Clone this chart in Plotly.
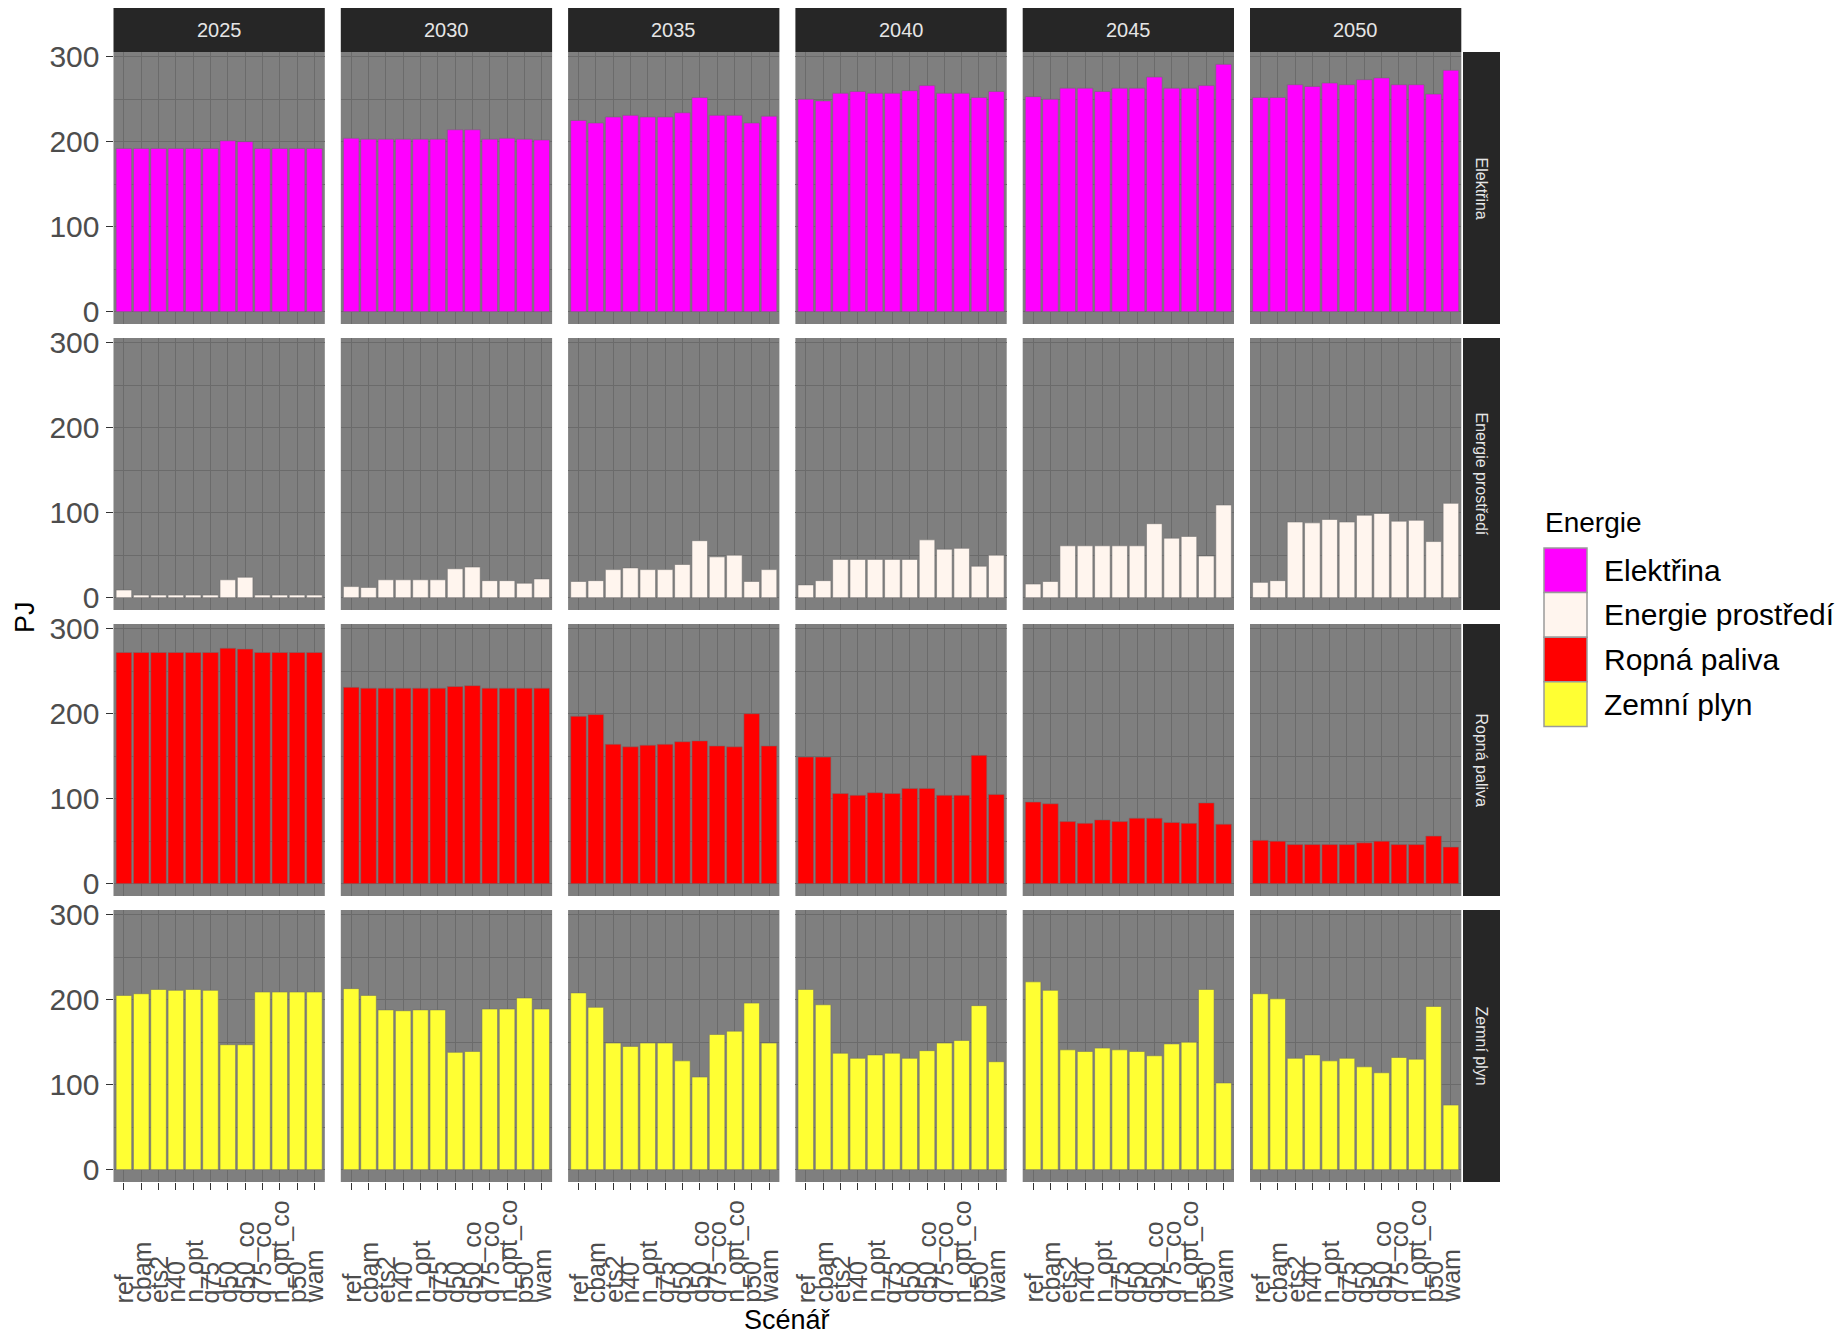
import plotly.graph_objects as go

# ---------------- data ----------------
years = ["2025", "2030", "2035", "2040", "2045", "2050"]
scenarios = ["ref", "cbam", "ets2", "n40", "n_opt", "q75", "q50", "q50_co",
             "q75_co", "n_opt_co", "p50", "wam"]
energies = ["Elektřina", "Energie prostředí", "Ropná paliva", "Zemní plyn"]
colors = ["#FF00FF", "#FFF5EE", "#FF0000", "#FFFF33"]

elektrina = {
    "2025": [192, 192, 192, 192, 192, 192, 201, 200, 192, 192, 192, 192],
    "2030": [204, 203, 203, 203, 203, 203, 214, 214, 203, 204, 203, 202],
    "2035": [225, 222, 229, 231, 229, 229, 234, 252, 231, 231, 222, 230],
    "2040": [250, 248, 257, 259, 257, 257, 260, 266, 257, 257, 252, 259],
    "2045": [253, 250, 263, 263, 259, 263, 263, 276, 263, 263, 266, 291],
    "2050": [252, 252, 267, 265, 269, 267, 273, 275, 267, 267, 256, 284],
}
energie_prostredi = {
    "2025": [9, 3, 3, 3, 3, 3, 21, 24, 3, 3, 3, 3],
    "2030": [13, 12, 21, 21, 21, 21, 34, 36, 20, 20, 17, 22],
    "2035": [19, 20, 33, 35, 33, 33, 39, 67, 48, 50, 19, 33],
    "2040": [15, 20, 45, 45, 45, 45, 45, 68, 57, 58, 37, 50],
    "2045": [16, 19, 61, 61, 61, 61, 61, 87, 70, 72, 49, 109],
    "2050": [18, 20, 89, 88, 92, 89, 97, 99, 90, 91, 66, 111],
}
ropna_paliva = {
    "2025": [272, 272, 272, 272, 272, 272, 277, 276, 272, 272, 272, 272],
    "2030": [231, 230, 230, 230, 230, 230, 232, 233, 230, 230, 230, 230],
    "2035": [197, 199, 164, 161, 163, 164, 167, 168, 162, 161, 200, 162],
    "2040": [149, 149, 106, 104, 107, 106, 112, 112, 104, 104, 151, 105],
    "2045": [96, 94, 73, 71, 75, 73, 77, 77, 72, 71, 95, 70],
    "2050": [51, 50, 46, 46, 46, 46, 48, 50, 46, 46, 56, 43],
}
zemni_plyn = {
    "2025": [205, 207, 212, 211, 212, 211, 147, 147, 209, 209, 209, 209],
    "2030": [213, 205, 188, 187, 188, 188, 138, 139, 189, 189, 202, 189],
    "2035": [208, 191, 149, 145, 149, 149, 128, 109, 159, 163, 196, 149],
    "2040": [212, 194, 137, 131, 135, 137, 131, 140, 149, 152, 193, 127],
    "2045": [221, 211, 141, 139, 143, 141, 139, 134, 148, 150, 212, 102],
    "2050": [207, 201, 131, 135, 128, 131, 121, 114, 132, 130, 192, 76],
}
series = [elektrina, energie_prostredi, ropna_paliva, zemni_plyn]

# ---------------- layout constants ----------------
W, H = 1845, 1334
FONT = "Liberation Sans, Arial, sans-serif"
COL_X0, COL_STEP, COL_W = 113.5, 227.3, 211.3
ROW_Y0, ROW_STEP, ROW_H = 52, 286, 272
STRIP_TOP = (8, 52)
STRIP_RIGHT = (1463, 1500)

ymax = max(max(v) for s in series for v in s.values())
yrange = [-0.05 * ymax, 1.05 * ymax]

def px(x):
    return x / W

def py(y):
    return 1 - y / H

fig = go.Figure()
layout = {}
annotations = []
shapes = []

for r, (energy, col, data) in enumerate(zip(energies, colors, series)):
    for c, yr in enumerate(years):
        idx = r * 6 + c + 1
        sfx = "" if idx == 1 else str(idx)
        x0 = COL_X0 + c * COL_STEP
        x1 = x0 + COL_W
        y0 = ROW_Y0 + r * ROW_STEP
        y1 = y0 + ROW_H
        fig.add_trace(go.Bar(
            x=scenarios, y=data[yr], xaxis="x" + sfx, yaxis="y" + sfx,
            marker=dict(color=col, line=dict(color="rgba(110,110,110,0.55)", width=1)),
            showlegend=False, name=energy,
        ))
        layout["xaxis" + sfx] = dict(
            domain=[px(x0), px(x1)], anchor="y" + sfx, type="category",
            categoryorder="array", categoryarray=scenarios,
            range=[-0.6, len(scenarios) - 0.4],
            showgrid=True, gridcolor="#6B6B6B", gridwidth=1.3,
            ticks="outside" if r == 3 else "", ticklen=7, tickwidth=1.3,
            tickcolor="#333333", showticklabels=False, zeroline=False,
            showline=False, fixedrange=True, automargin=False,
        )
        layout["yaxis" + sfx] = dict(
            domain=[py(y1), py(y0)], anchor="x" + sfx, range=yrange,
            tick0=0, dtick=100,
            showgrid=True, gridcolor="#6B6B6B", gridwidth=1.3,
            minor=dict(dtick=50, tick0=0, showgrid=True, gridcolor="#6B6B6B", gridwidth=0.6),
            ticks="outside" if c == 0 else "", ticklen=7, tickwidth=1.3,
            tickcolor="#333333", showticklabels=(c == 0),
            tickfont=dict(family=FONT, size=30, color="#4D4D4D"),
            zeroline=False, showline=False, fixedrange=True, automargin=False,
        )
        # x tick labels (bottom row), bottom aligned like ggplot
        if r == 3:
            for s in scenarios:
                annotations.append(dict(
                    x=s, xref="x" + sfx, y=py(1304), yref="paper",
                    text=s, showarrow=False, textangle=-90,
                    xanchor="center", yanchor="bottom",
                    font=dict(family=FONT, size=25, color="#4D4D4D"),
                    borderpad=0,
                ))
        # top strips
        if r == 0:
            shapes.append(dict(type="rect", xref="paper", yref="paper",
                               x0=px(x0), x1=px(x1), y0=py(STRIP_TOP[1]), y1=py(STRIP_TOP[0]),
                               fillcolor="#262626", line=dict(width=0), layer="above"))
            annotations.append(dict(x=px((x0 + x1) / 2), y=py(sum(STRIP_TOP) / 2),
                                    xref="paper", yref="paper", text=yr, showarrow=False,
                                    xanchor="center", yanchor="middle",
                                    font=dict(family=FONT, size=20, color="#E5E5E5")))
    # right strips
    y0 = ROW_Y0 + r * ROW_STEP
    y1 = y0 + ROW_H
    shapes.append(dict(type="rect", xref="paper", yref="paper",
                       x0=px(STRIP_RIGHT[0]), x1=px(STRIP_RIGHT[1]), y0=py(y1), y1=py(y0),
                       fillcolor="#262626", line=dict(width=0), layer="above"))
    annotations.append(dict(x=px(sum(STRIP_RIGHT) / 2), y=py((y0 + y1) / 2),
                            xref="paper", yref="paper", text=energy, showarrow=False,
                            textangle=90, xanchor="center", yanchor="middle",
                            font=dict(family=FONT, size=16, color="#E5E5E5")))

# axis titles
annotations.append(dict(x=px(787), y=py(1320), xref="paper", yref="paper", text="Scénář",
                        showarrow=False, xanchor="center", yanchor="middle",
                        font=dict(family=FONT, size=27, color="black")))
annotations.append(dict(x=px(25), y=py(617), xref="paper", yref="paper", text="PJ",
                        showarrow=False, textangle=-90, xanchor="center", yanchor="middle",
                        font=dict(family=FONT, size=27, color="black")))

# legend (drawn manually with large ggplot-like keys)
annotations.append(dict(x=px(1543), y=py(522), xref="paper", yref="paper", text="Energie",
                        showarrow=False, xanchor="left", yanchor="middle",
                        font=dict(family=FONT, size=28, color="black")))
KEY_X0, KEY_Y0, KEY_W, KEY_H = 1544, 548, 43, 44.6
for i, (energy, col) in enumerate(zip(energies, colors)):
    ky0 = KEY_Y0 + i * KEY_H
    shapes.append(dict(type="rect", xref="paper", yref="paper",
                       x0=px(KEY_X0), x1=px(KEY_X0 + KEY_W), y0=py(ky0 + KEY_H), y1=py(ky0),
                       fillcolor=col, line=dict(color="#9A9A9A", width=1.5)))
    annotations.append(dict(x=px(1602), y=py(ky0 + KEY_H / 2), xref="paper", yref="paper",
                            text=energy, showarrow=False, xanchor="left", yanchor="middle",
                            font=dict(family=FONT, size=30, color="black")))

fig.update_layout(
    width=W, height=H, autosize=False,
    margin=dict(l=0, r=0, t=0, b=0, pad=0, autoexpand=False),
    paper_bgcolor="white", plot_bgcolor="#7F7F7F",
    bargap=0.1, showlegend=False,
    font=dict(family=FONT),
    annotations=annotations, shapes=shapes,
    **layout,
)

fig.write_html(
    "out.html",
    config={"displayModeBar": False},
    post_script="document.body.style.margin='0px';document.body.style.overflow='hidden';",
)
